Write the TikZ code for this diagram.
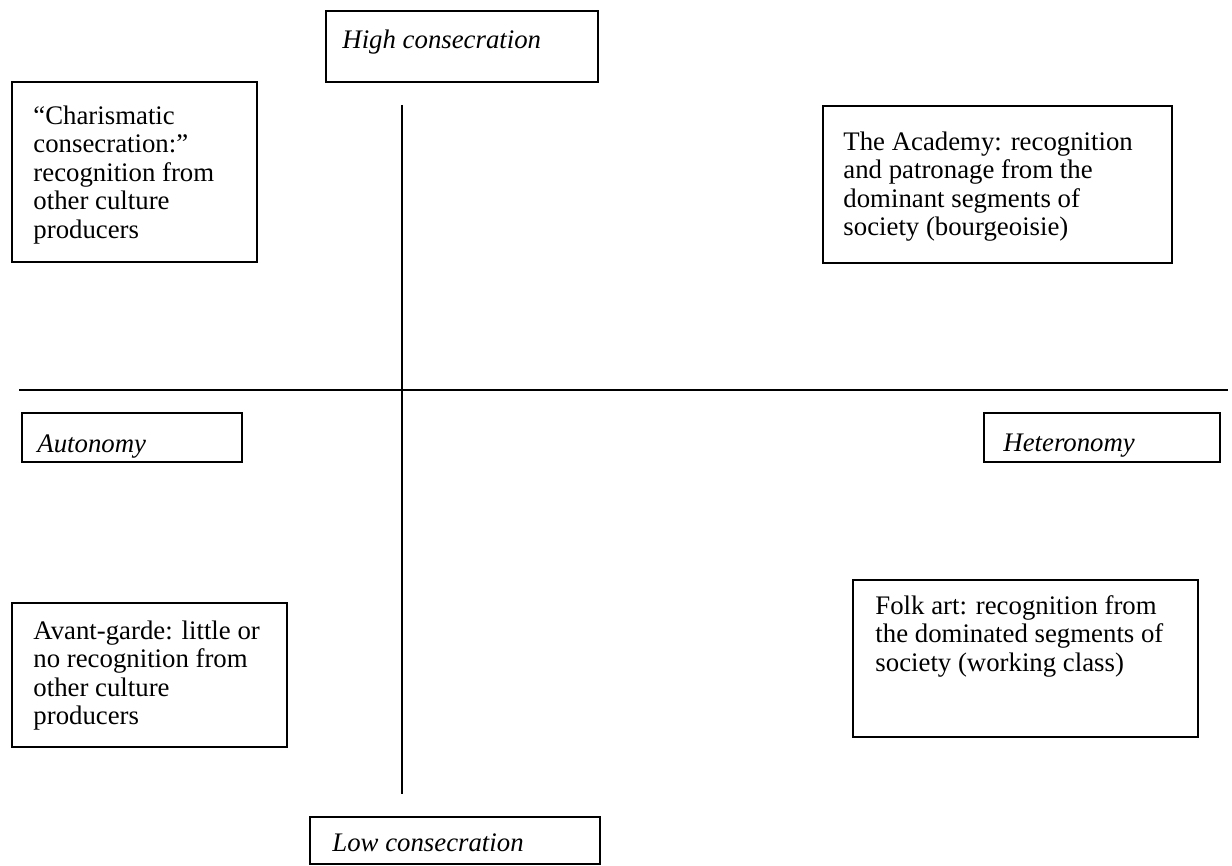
\documentclass[tikz,border=0pt]{standalone}
\usepackage{fontspec}
\setmainfont{Liberation Serif}
\newcommand{\pxu}{0.448pt}
\tikzset{
  frame/.style={draw, line width=0.8pt, anchor=north west, inner sep=0pt, outer sep=0pt},
  boxtext/.style={anchor=north west, inner sep=0pt, align=left, font=\fontsize{12}{12.8}\selectfont},
  poletext/.style={anchor=north west, inner sep=0pt, font=\fontsize{12}{12.8}\selectfont\itshape},
  axis/.style={line width=0.9pt}
}
\begin{document}
\begin{tikzpicture}[x=\pxu, y=-\pxu]
\useasboundingbox (0,0) rectangle (1232,865);
% axes
\coordinate (top) at (402,105);
\coordinate (bottom) at (402,794);
\coordinate (left) at (19,390);
\coordinate (right) at (1228,390);
\draw[axis] (top) -- (bottom);
\draw[axis] (left) -- (right);
% poles
\node[frame, minimum width=272*\pxu, minimum height=71*\pxu] (high) at (326,11) {};
\node[poletext] (hightext) at ([shift={(16,18)}]high.north west) {High consecration};
\node[frame, minimum width=290*\pxu, minimum height=47*\pxu] (low) at (310,817) {};
\node[poletext] (lowtext) at ([shift={(22,16)}]low.north west) {Low consecration};
\node[frame, minimum width=220*\pxu, minimum height=49*\pxu] (auto) at (22,413) {};
\node[poletext] (autotext) at ([shift={(15,21)}]auto.north west) {Autonomy};
\node[frame, minimum width=236*\pxu, minimum height=49*\pxu] (hetero) at (984,413) {};
\node[poletext] (heterotext) at ([shift={(19,21)}]hetero.north west) {Heteronomy};
% quadrants
\node[frame, minimum width=245*\pxu, minimum height=180*\pxu] (charis) at (12,82) {};
\node[boxtext] (charistext) at ([shift={(21,23)}]charis.north west)
  {``Charismatic\\consecration:''\\recognition from\\other culture\\producers};
\node[frame, minimum width=349*\pxu, minimum height=157*\pxu] (academy) at (823,106) {};
\node[boxtext] (academytext) at ([shift={(20,25)}]academy.north west)
  {The Academy: recognition\\and patronage from the\\dominant segments of\\society (bourgeoisie)};
\node[frame, minimum width=275*\pxu, minimum height=144*\pxu] (avant) at (12,603) {};
\node[boxtext] (avanttext) at ([shift={(21,17)}]avant.north west)
  {Avant-garde: little or\\no recognition from\\other culture\\producers};
\node[frame, minimum width=345*\pxu, minimum height=157*\pxu] (folk) at (853,580) {};
\node[boxtext] (folktext) at ([shift={(22,15)}]folk.north west)
  {Folk art: recognition from\\the dominated segments of\\society (working class)};
\end{tikzpicture}
\end{document}
